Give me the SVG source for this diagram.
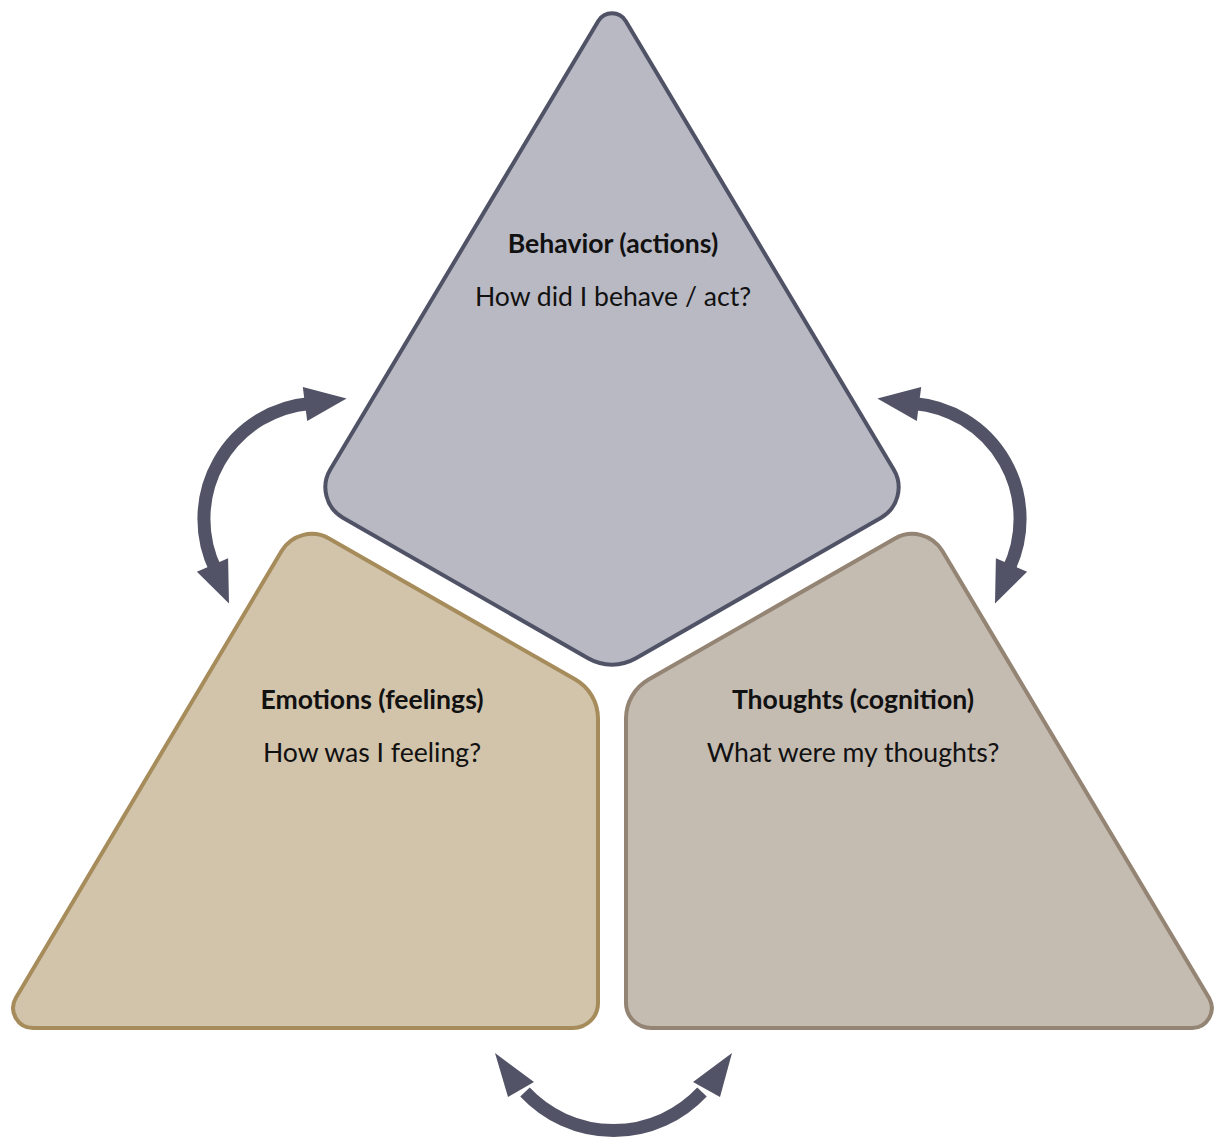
<svg xmlns="http://www.w3.org/2000/svg" width="1214" height="1137" viewBox="0 0 1214 1137">
<style>
.title{font-family:Lato,"Liberation Sans",sans-serif;font-weight:bold;font-size:26.6px;fill:#111;text-anchor:middle}
.sub{font-family:Lato,"Liberation Sans",sans-serif;font-size:26.6px;fill:#111;text-anchor:middle}
.shaft{fill:none;stroke:#525366;stroke-width:13}
.head{fill:#525366}
</style>
<rect width="1214" height="1137" fill="#ffffff"/>
<g id="behavior">
<path d="M 625.7,21 L 893.7,469.5 A 35 35 0 0 1 881.1,517.7 L 635.9,658.3 A 48 48 0 0 1 588.1,658.3 L 342.9,517.7 A 35 35 0 0 1 330.3,469.5 L 598.3,21 A 16 16 0 0 1 625.7,21 Z" fill="#b9b9c3" stroke="#505266" stroke-width="4"/>
<text class="title" x="613" y="253">Behavior (actions)</text>
<text class="sub" x="613" y="306">How did I behave / act?</text>
</g>
<g id="emotions">
<path d="M 329.0,538.5 L 575.4,679.6 A 45 45 0 0 1 598,718.7 L 598,1003 A 25 25 0 0 1 573,1028 L 33.15,1028 A 20 20 0 0 1 15.96,997.8 L 281.6,551.0 A 35 35 0 0 1 329.0,538.5 Z" fill="#d1c4ab" stroke="#a68b5b" stroke-width="4"/>
<text class="title" x="372" y="709">Emotions (feelings)</text>
<text class="sub" x="372" y="762">How was I feeling?</text>
</g>
<g id="thoughts">
<path d="M 942.4,551.0 L 1209.5,998.8 A 20 20 0 0 1 1192.3,1028 L 651,1028 A 25 25 0 0 1 626,1003 L 626,718.7 A 45 45 0 0 1 648.6,679.6 L 895,538.5 A 35 35 0 0 1 942.4,551.0 Z" fill="#c4bbb1" stroke="#938473" stroke-width="4"/>
<text class="title" x="853" y="709">Thoughts (cognition)</text>
<text class="sub" x="853" y="762">What were my thoughts?</text>
</g>
<g id="connectors">
<path class="shaft" d="M 309.9,403.4 A 116 116 0 0 0 215.7,569.9"/>
<polygon class="head" points="346.6,398.6 302.8,387.1 307.2,420.9"/>
<polygon class="head" points="229.0,603.6 228.1,558.3 196.9,571.7"/>
<path class="shaft" d="M 914.1,403.4 A 116 116 0 0 1 1008.3,569.9"/>
<polygon class="head" points="877.4,398.6 921.2,387.1 916.8,420.9"/>
<polygon class="head" points="995.0,603.6 995.9,558.3 1027.1,571.7"/>
<path class="shaft" d="M 525,1092 A 121 121 0 0 0 702,1092"/>
<polygon class="head" points="495,1053 508,1097 534,1082"/>
<polygon class="head" points="732,1053 693,1082 720,1097"/>
</g>
</svg>
